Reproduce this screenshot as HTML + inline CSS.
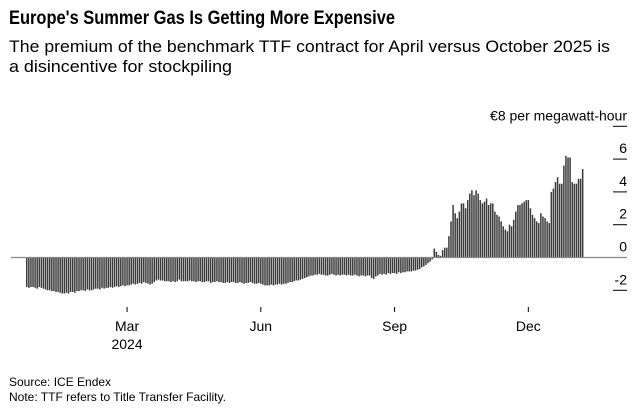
<!DOCTYPE html>
<html><head><meta charset="utf-8"><style>
body{margin:0;background:#fff;}
svg{display:block;font-family:"Liberation Sans",Arial,sans-serif;}
</style></head><body>
<svg id="chart" width="639" height="409" viewBox="0 0 639 409">
<text x="9" y="24" font-size="19" font-weight="bold" fill="#000" textLength="386" lengthAdjust="spacingAndGlyphs">Europe's Summer Gas Is Getting More Expensive</text>
<text x="9" y="52" font-size="17" fill="#000" textLength="601" lengthAdjust="spacingAndGlyphs">The premium of the benchmark TTF contract for April versus October 2025 is</text>
<text x="9" y="72" font-size="17" fill="#000" textLength="223" lengthAdjust="spacingAndGlyphs">a disincentive for stockpiling</text>
<g id="grid"></g>
<g id="bars"></g>
<g id="xaxis"></g>
<text x="9" y="386" font-size="12" fill="#000">Source: ICE Endex</text>
<text x="9" y="401" font-size="12" fill="#000">Note: TTF refers to Title Transfer Facility.</text>
</svg>
<script>
const values = [
-1.8,-1.85,-1.8,-1.8,-1.85,-1.9,-1.8,-1.85,-1.9,-1.95,-2.0,
-2.0,-2.05,-2.05,-2.1,-2.1,-2.15,-2.2,-2.2,-2.15,-2.2,-2.1,-2.1,-2.15,-2.05,-2.05,
-2.0,-2.0,-2.05,-1.95,-2.0,-2.0,-1.95,-1.9,-1.9,-1.95,-1.85,-1.9,-1.85,-1.85,-1.8,-1.85,-1.8,-1.75,-1.8,-1.75,
-1.7,-1.75,-1.7,-1.7,-1.65,-1.6,-1.65,-1.6,-1.55,-1.6,-1.5,-1.55,-1.6,-1.65,-1.6,
-1.5,-1.4,-1.35,-1.4,-1.4,-1.45,-1.45,-1.45,-1.5,-1.45,-1.5,-1.45,-1.35,-1.45,-1.45,
-1.45,-1.45,-1.4,-1.45,-1.45,-1.5,-1.45,-1.45,-1.5,-1.5,-1.45,-1.45,-1.55,-1.5,-1.5,-1.45,-1.5,-1.5,-1.55,-1.55,
-1.5,-1.55,-1.5,-1.5,-1.55,-1.55,-1.5,-1.55,-1.6,-1.55,-1.55,-1.5,-1.55,-1.6,-1.6,-1.55,-1.6,-1.65,-1.7,-1.7,
-1.7,-1.65,-1.7,-1.65,-1.65,-1.6,-1.65,-1.6,-1.6,-1.55,-1.5,-1.5,-1.45,-1.4,-1.4,-1.35,-1.3,-1.25,-1.2,-1.15,
-1.1,-1.1,-1.05,-1.05,-1.0,-1.05,-1.05,-1.1,-1.1,-1.05,-1.0,-1.05,-1.1,-1.05,-1.1,-1.05,-1.05,-1.1,-1.05,-1.1,
-1.1,-1.05,-1.1,-1.15,-1.1,-1.1,-1.15,-1.1,-1.1,-1.25,-1.3,-1.15,-1.1,-1.0,-1.05,-1.0,-1.05,-0.95,-1.0,-0.95,
-0.95,-1.0,-0.9,-0.95,-0.9,-0.9,-0.85,-0.85,-0.85,-0.8,-0.8,-0.75,-0.7,-0.6,-0.55,-0.45,-0.35,-0.25,-0.12,
0.55,0.35,0.15,0.1,0.45,0.6,0.6,1.3,2.2,3.2,2.7,2.4,2.8,3.3,3.3,3.0,3.5,3.9,4.1,3.8,4.1,3.9,3.5,3.3,3.4,3.6,3.2,3.3,3.3,2.8,
2.6,2.5,2.2,1.9,1.7,1.6,2.0,1.9,2.3,2.8,3.2,3.2,3.3,3.4,3.5,3.5,3.0,2.6,2.4,2.2,2.1,2.7,2.5,2.4,2.2,2.1,
4.0,4.2,4.6,4.9,4.5,4.5,5.6,6.2,6.1,6.1,4.6,4.5,4.5,4.8,4.8,5.4
];
const yTicks = [8,6,4,2,0,-2];
const monthLabels = ["Mar","Jun","Sep","Dec"];
const monthIndex = [48,112,176,240];

const NS="http://www.w3.org/2000/svg";
const X0=26, X1=584, Y0=257.5, PXU=16.4;
const band=(X1-X0)/values.length;
function xScale(i){return X0+i*band;}
function yScale(v){return Y0-v*PXU;}
function mk(tag,attrs,parent){const e=document.createElementNS(NS,tag);for(const k in attrs)e.setAttribute(k,attrs[k]);parent.appendChild(e);return e;}

const grid=document.getElementById('grid');
yTicks.forEach(t=>{
  const y=yScale(t);
  if(t!==0){
    const l=mk('line',{x1:613,x2:627,y1:y,y2:y,stroke:'#000','stroke-width':1},grid);
    
    
  }
  const tx=mk('text',{x:627,y:y-6,'font-size':14,'text-anchor':'end',fill:'#000'},grid);
  tx.textContent = t===8 ? '€8 per megawatt-hour' : String(t);
  
  
});

const barsG=document.getElementById('bars');
values.forEach((v,i)=>{
  const y=Math.min(yScale(v),Y0), h=Math.abs(yScale(v)-Y0);
  const r=mk('rect',{x:xScale(i),y:y,width:band*0.72,height:h,fill:'#3a3a3a'},barsG);
  
  
});
const zl=mk('line',{x1:11,x2:627,y1:Y0,y2:Y0,stroke:'#888','stroke-width':1.2},grid.parentNode);



const xa=document.getElementById('xaxis');
monthLabels.forEach((m,k)=>{
  const x=xScale(monthIndex[k])+band*0.36;
  const tk=mk('line',{x1:x,x2:x,y1:307,y2:312,stroke:'#000','stroke-width':1},xa);
  
  
  const t=mk('text',{x:x,y:331,'font-size':14,'text-anchor':'middle',fill:'#000'},xa);
  t.textContent=m;
  
  
  if(m==="Mar"){
    const yr=mk('text',{x:x,y:349,'font-size':14,'text-anchor':'middle',fill:'#000'},xa);
    yr.textContent='2024';
    
    
  }
});
</script>
</body></html>
